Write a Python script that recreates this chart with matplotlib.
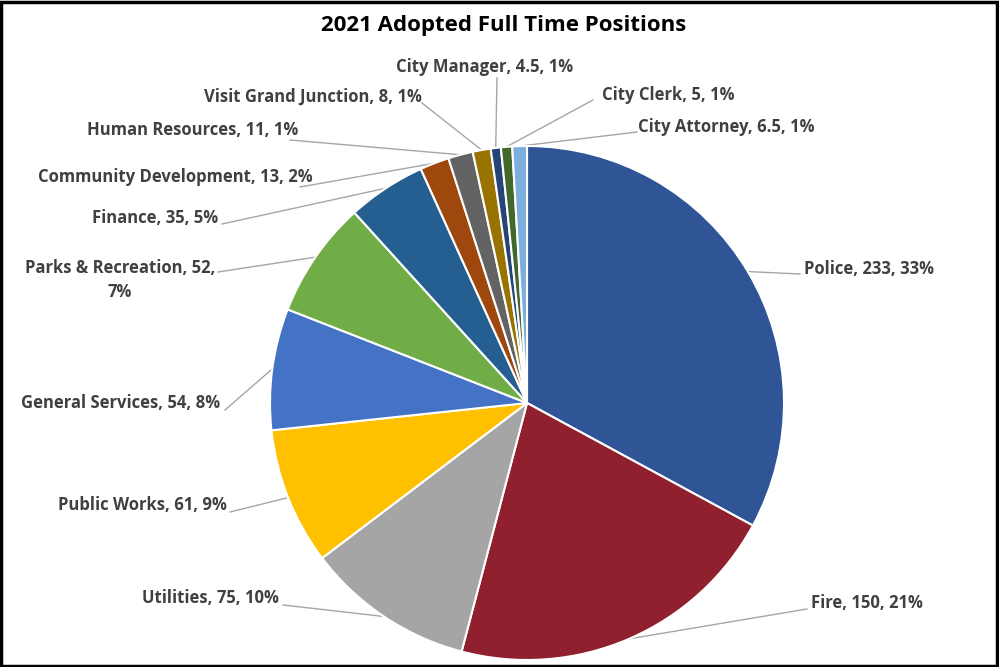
import numpy as np
import matplotlib
matplotlib.use('Agg')
import matplotlib.pyplot as plt
from matplotlib.patches import Rectangle

plt.rcParams['font.family'] = ['Open Sans', 'DejaVu Sans']

depts = ['Police', 'Fire', 'Utilities', 'Public Works', 'General Services',
         'Parks & Recreation', 'Finance', 'Community Development',
         'Human Resources', 'Visit Grand Junction', 'City Manager',
         'City Clerk', 'City Attorney']
positions = [233, 150, 75, 61, 54, 52, 35, 13, 11, 8, 4.5, 5, 6.5]
pct_labels = ['33%', '21%', '10%', '9%', '8%', '7%', '5%', '2%', '1%', '1%', '1%', '1%', '1%']
colors = ['#2F5597', '#90202E', '#A5A5A5', '#FFC000', '#4472C4', '#70AD47',
          '#255E91', '#9E480E', '#636363', '#997300', '#264478', '#43682B', '#7CAFDD']

# label layout, pixels on the 999x667 canvas: (x, y, ha)
label_pos = [(804, 269, 'left'), (811, 603, 'left'), (279, 598, 'right'),
             (227, 505, 'right'), (220, 403, 'right'), (215, 280, 'right'),
             (218, 218, 'right'), (313, 177, 'right'), (298, 130, 'right'),
             (422, 97, 'right'), (485, 67, 'center'), (602, 95, 'left'),
             (638, 127, 'left')]
# where each leader line meets its label
line_end = [(800, 274), (807, 609), (283, 605), (230, 512), (225, 410),
            (218, 272), (222, 224), (300, 187), (290, 140), (422, 103),
            (497, 78), (593, 100), (637, 132)]

W, H = 999, 667
cx, cy, R = 527, 403, 257

def px(x, y):
    return (x - cx) / R, (cy - y) / R

fig = plt.figure(figsize=(W / 100, H / 100), dpi=100)
ax = fig.add_axes([0, 0, 1, 1])
wedges, _ = ax.pie(positions, colors=colors, startangle=90, counterclock=False,
                   wedgeprops=dict(edgecolor='white', linewidth=1.5))
ax.set_xlim(-cx / R, (W - cx) / R)
ax.set_ylim((cy - H) / R, cy / R)
ax.set_aspect('auto')
ax.axis('off')

for i, w in enumerate(wedges):
    ang = np.deg2rad((w.theta1 + w.theta2) / 2)
    sx, sy = np.cos(ang), np.sin(ang)
    ex, ey = px(*line_end[i])
    ax.plot([sx, ex], [sy, ey], color='#A6A6A6', lw=1, zorder=0)
    vs = f'{positions[i]:g}'
    if depts[i] == 'Parks & Recreation':
        txt = f'{depts[i]}, {vs},\n{pct_labels[i]}'
    else:
        txt = f'{depts[i]}, {vs}, {pct_labels[i]}'
    tx, ty = px(label_pos[i][0], label_pos[i][1])
    ax.text(tx, ty, txt, ha=label_pos[i][2], va='center', multialignment='center',
            fontsize=12, fontweight='bold', color='#404040', linespacing=1.4)

fig.text(504 / W, 1 - 25 / H, '2021 Adopted Full Time Positions', ha='center',
         va='center', fontsize=16, fontweight='bold', color='black')

fig.patches.append(Rectangle((0.001, 0.002), 0.997, 0.995, transform=fig.transFigure,
                             fill=False, edgecolor='black', linewidth=2.5))

fig.savefig('out.png', dpi=100)
